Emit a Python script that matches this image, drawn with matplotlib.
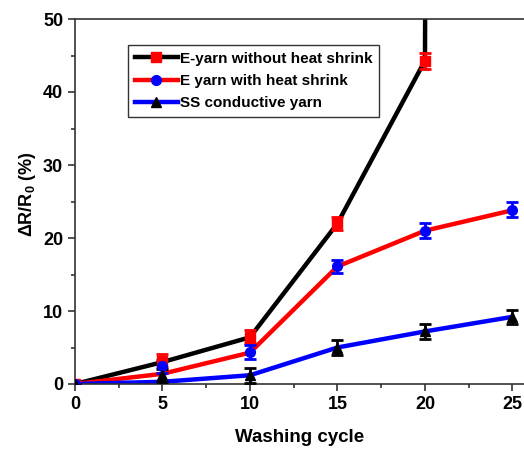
import matplotlib.pyplot as plt
from matplotlib.lines import Line2D

plt.rcParams['font.family'] = 'Liberation Sans'
plt.rcParams['font.weight'] = 'bold'
plt.rcParams['mathtext.fontset'] = 'custom'
plt.rcParams['mathtext.rm'] = 'Liberation Sans:bold'
plt.rcParams['mathtext.it'] = 'Liberation Sans:bold'
plt.rcParams['mathtext.bf'] = 'Liberation Sans:bold'

# washing cycles
cycles = [0, 5, 10, 15, 20, 25]

# line traces
no_shrink_line = [0, 3.0, 6.4, 22.0, 44.3, 3000]
shrink_line = [0, 1.4, 4.3, 16.1, 21.0, 23.8]
ss_line = [0, 0.3, 1.2, 5.0, 7.2, 9.2]

# measured points with error bars
no_shrink_pts = [0, 3.2, 6.5, 22.0, 44.3]
no_shrink_err = [0, 0.9, 0.9, 0.9, 1.1]
shrink_pts = [0, 2.4, 4.4, 16.1, 21.0, 23.9]
shrink_err = [0, 0.9, 1.0, 0.9, 1.0, 1.0]
ss_pts = [0, 1.2, 1.2, 5.0, 7.2, 9.2]
ss_err = [0, 0.9, 1.0, 1.0, 1.0, 1.0]

labels = ["E-yarn without heat shrink", "E yarn with heat shrink", "SS conductive yarn"]

fig = plt.figure(figsize=(5.24, 4.5), dpi=100)
ax = fig.add_axes([75 / 524, 1 - 384 / 450, 449 / 524, 365 / 450])

ax.plot(cycles, no_shrink_line, color='black', lw=3.2, zorder=2)
ax.plot(cycles, shrink_line, color='red', lw=3.2, zorder=2)
ax.plot(cycles, ss_line, color='blue', lw=3.2, zorder=2)

ekw = dict(ls='none', elinewidth=2, capsize=4, capthick=2, ms=7, zorder=3)
ax.errorbar(cycles[:5], no_shrink_pts, yerr=no_shrink_err, fmt='s', color='red', **ekw)
ax.errorbar(cycles, shrink_pts, yerr=shrink_err, fmt='o', color='blue', **ekw)
ax.errorbar(cycles, ss_pts, yerr=ss_err, fmt='^', color='black', **ekw)

ax.set_xlim(0, 25.66)
ax.set_ylim(0, 50)
ax.set_xticks(cycles)
ax.set_xticks([2.5, 7.5, 12.5, 17.5, 22.5], minor=True)
ax.set_yticks([0, 10, 20, 30, 40, 50])
ax.set_yticks([5, 15, 25, 35, 45], minor=True)
ax.tick_params(labelsize=13, width=1.2, length=5, color='#333333')
ax.tick_params(which='minor', width=1.2, length=3, color='#333333')
for s in ['left', 'bottom', 'top']:
    ax.spines[s].set_linewidth(1.2)
    ax.spines[s].set_color('#333333')
ax.spines['right'].set_visible(False)

ax.set_xlabel("Washing cycle", fontsize=13.5, fontweight='bold')
ax.set_ylabel(r"$\Delta$R/R$_0$ (%)", fontsize=13, fontweight='bold')
ax.xaxis.set_label_coords(0.5, -0.124)
ax.yaxis.set_label_coords(-0.082, 0.52)

handles = [
    Line2D([], [], color='black', lw=3.2, marker='s', mfc='red', mec='red', ms=7),
    Line2D([], [], color='red', lw=3.2, marker='o', mfc='blue', mec='blue', ms=7),
    Line2D([], [], color='blue', lw=3.2, marker='^', mfc='black', mec='black', ms=7),
]
leg = ax.legend(handles, labels, loc='upper left', bbox_to_anchor=(0.118, 0.929),
                fontsize=11, frameon=True, fancybox=False, edgecolor='black',
                handlelength=2.8, handletextpad=0.15, borderpad=0.45, labelspacing=0.53,
                borderaxespad=0)
leg.get_frame().set_linewidth(1.0)

fig.savefig("out.png", dpi=100)
